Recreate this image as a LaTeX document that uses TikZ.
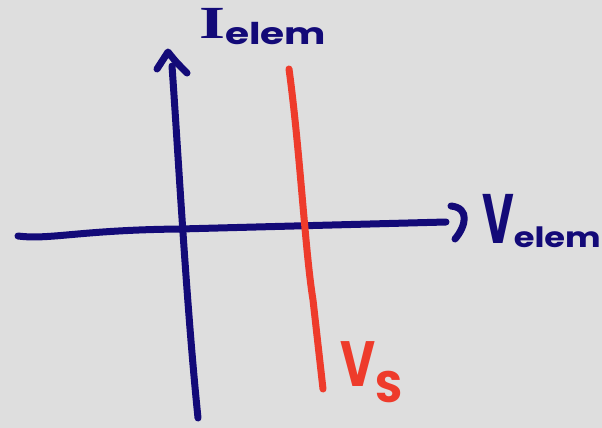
\documentclass[tikz,border=0pt]{standalone}
\usepackage{fontspec}
\newfontfamily\hand{Poppins}
\newfontfamily\handserif{Liberation Serif}
\definecolor{bgcol}{HTML}{DEDEDE}
\definecolor{navy}{HTML}{130A78}
\definecolor{redpen}{HTML}{EE3B2B}
\begin{document}
\begin{tikzpicture}[x=1pt,y=-1pt,
  pen/.style={line width=7pt,line cap=round,line join=round},
  lab/.style={inner sep=0pt,anchor=base west,font=\hand\bfseries}]
\useasboundingbox (0,0) rectangle (602,428);
\fill[bgcol] (0,0) rectangle (602,428);
% vertical axis
\coordinate (vb) at (198,418);
\coordinate (vt) at (172,66);
\coordinate (vtip) at (168,52);
\coordinate (vl) at (157,69);
\coordinate (vr) at (187,73);
\draw[pen,navy] (vb) .. controls (186,300) and (178,150) .. (vt);
\draw[pen,navy] (vl) .. controls (162,60) .. (vtip) .. controls (176,62) .. (vr);
% horizontal axis
\coordinate (hl) at (18,236);
\coordinate (hr) at (446,222);
\coordinate (htop) at (451,206);
\coordinate (hbot) at (455,239);
\draw[pen,navy] (hl) .. controls (50,240) and (80,230) .. (180,229) -- (hr);
\draw[pen,navy] (htop) .. controls (470,208) and (466,226) .. (hbot);
% red line
\coordinate (rt) at (289,69);
\coordinate (rb) at (323,389);
\draw[pen,redpen] (rt) .. controls (300,150) and (305,250) .. (313,300) -- (rb);
% labels
\node[lab,navy] (ilab) at (199,38) {\scalebox{1.45}[1]{\handserif\bfseries\fontsize{46}{46}\selectfont I}\raisebox{-6pt}{\scalebox{1.3}[1]{\fontsize{30}{30}\selectfont elem}}};
\node[lab,navy] (vlab) at (482,243) {\scalebox{0.62}[1]{\fontsize{70}{70}\selectfont V}\raisebox{-4pt}{\scalebox{1.2}[1]{\fontsize{28}{28}\selectfont elem}}};
\node[lab,redpen] (slab) at (340,386) {\scalebox{0.75}[1]{\fontsize{64}{64}\selectfont V}\raisebox{-16pt}{\fontsize{44}{44}\selectfont S}};
\end{tikzpicture}
\end{document}
